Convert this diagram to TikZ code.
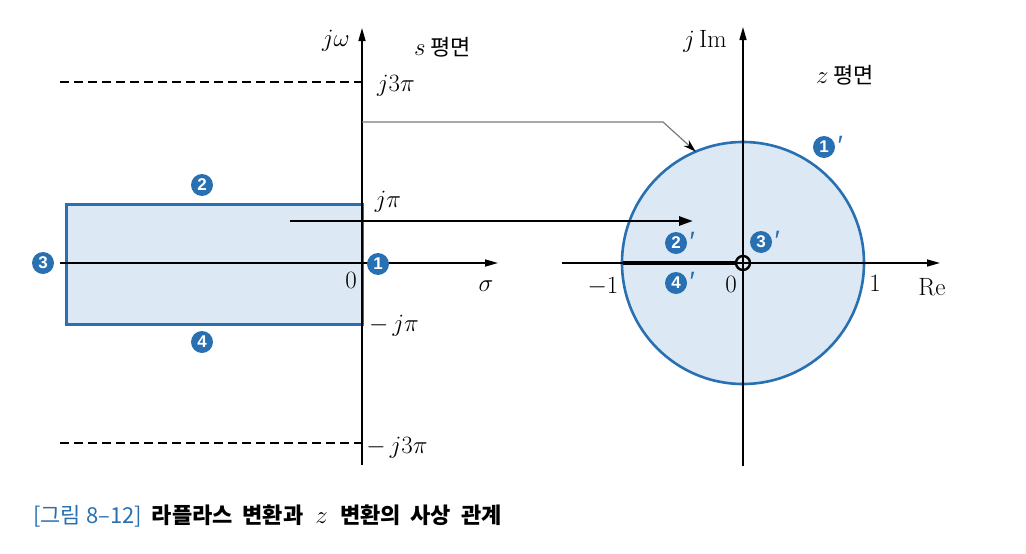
\documentclass[tikz,border=0pt]{standalone}
\usepackage{fontspec}
\newfontfamily\kr{Noto Sans CJK KR}
\newfontfamily\numfont{Liberation Sans}
\usetikzlibrary{arrows.meta}
\definecolor{nblue}{HTML}{2870B2}
\definecolor{rfill}{HTML}{DCE8F3}
\definecolor{gline}{HTML}{7A7A7A}
\begin{document}
\begin{tikzpicture}[x=1pt,y=-1pt,
  lab/.style={font=\fontsize{25}{25}\selectfont, inner sep=0pt},
  kor/.style={font=\fontsize{22}{22}\selectfont\kr, inner sep=0pt},
  num/.style={circle, fill=nblue, text=white, inner sep=0pt, minimum size=22pt,
              font=\fontsize{17}{17}\selectfont\numfont\bfseries},
  pr/.style={text=nblue, font=\fontsize{28}{28}\selectfont\numfont\itshape, inner sep=0pt},
  axis/.style={line width=1.5pt, -{Triangle[length=13pt,width=7pt]}},
  dashline/.style={line width=2.6pt, dash pattern=on 9pt off 5pt},
  ]
\useasboundingbox (0,0) rectangle (1026,554);

% ---------- s-plane ----------
\node[draw=nblue, fill=rfill, line width=3pt, minimum width=296pt, minimum height=120pt,
      inner sep=0pt, outer sep=0pt] (rect) at (214,264) {};
\coordinate (sL) at (60,263);
\coordinate (sR) at (498,263);
\coordinate (sB) at (362,465);
\coordinate (sT) at (362,28);
\draw[axis] (sL) -- (sR);
\draw[axis] (sB) -- (sT);

\coordinate (d1a) at (60,82);  \coordinate (d1b) at (362,82);
\coordinate (d2a) at (60,443); \coordinate (d2b) at (362,443);
\draw[dashline] (d1a) -- (d1b);
\draw[dashline] (d2a) -- (d2b);

\node[lab] (jw) at (336,41) {$j\omega$};
\node[kor, anchor=west] (splane) at (414,47) {{\fontsize{25}{25}\selectfont$s$}\ 평면};
\node[lab] (j3p) at (396,86) {$j3\pi$};
\node[lab] (jp) at (388,202) {$j\pi$};
\node[lab] (s0) at (351,280) {$0$};
\node[lab] (sig) at (486,286) {$\sigma$};
\node[lab] (mjp) at (394,326) {$-\,j\pi$};
\node[lab] (mj3p) at (397,448) {$-\,j3\pi$};

\node[num] (n2) at (202,185) {2};
\node[num] (n3) at (43,263) {3};
\node[num] (n1) at (378,264) {1};
\node[num] (n4) at (202,342) {4};

% ---------- z-plane ----------
\node[circle, draw=nblue, fill=rfill, line width=2.6pt, minimum size=242pt,
      inner sep=0pt, outer sep=0pt] (uc) at (743,263) {};
\coordinate (zL) at (562,263);
\coordinate (zR) at (940,263);
\coordinate (zB) at (743,466);
\coordinate (zT) at (743,27);
\draw[axis] (zL) -- (zR);
\draw[axis] (zB) -- (zT);
\coordinate (m1) at (623,263);
\coordinate (m0) at (736,263);
\draw[line width=3.5pt] (m1) -- (m0);
\node[circle, draw, line width=2.4pt, minimum size=14pt, inner sep=0pt] (o) at (743,263) {};

\node[lab] (jim) at (705,41) {$j\,\mathrm{Im}$};
\node[kor, anchor=west] (zplane) at (816,75) {{\fontsize{25}{25}\selectfont$z$}\ 평면};
\node[lab] (zm1) at (603,287) {$-1$};
\node[lab] (z0) at (731,284) {$0$};
\node[lab] (z1) at (875,283) {$1$};
\node[lab] (re) at (932,287) {$\mathrm{Re}$};

\node[num] (p1) at (824,147) {1};
\node[pr, anchor=west] at ([xshift=1pt,yshift=1pt]p1.east) {′};
\node[num] (p2) at (676,243) {2};
\node[pr, anchor=west] at ([xshift=1pt,yshift=1pt]p2.east) {′};
\node[num] (p3) at (761,242) {3};
\node[pr, anchor=west] at ([xshift=1pt,yshift=1pt]p3.east) {′};
\node[num] (p4) at (676,283) {4};
\node[pr, anchor=west] at ([xshift=1pt,yshift=1pt]p4.east) {′};

% ---------- mapping connectors ----------
\coordinate (g0) at (362,122);
\coordinate (g1) at (663,122);
\draw[gline, line width=1.2pt, -{Stealth[black,length=13pt,width=8pt]}] (g0) -- (g1) -- (uc.113);
\coordinate (a0) at (290,221);
\coordinate (a1) at (693,221);
\draw[line width=2.7pt, -{Triangle[length=14pt,width=9pt]}] (a0) -- (a1);

% ---------- caption ----------
\node[anchor=west, inner sep=0pt, font=\fontsize{22}{22}\selectfont\kr] (cap) at (33,516)
  {\textcolor{nblue}{[그림 8–12]}\hspace{0.45em}\textbf{라플라스\hspace{0.45em}변환과\hspace{0.55em}{\fontsize{25}{25}\selectfont$z$}\hspace{0.55em}변환의\hspace{0.45em}사상\hspace{0.45em}관계}};
\end{tikzpicture}
\end{document}
